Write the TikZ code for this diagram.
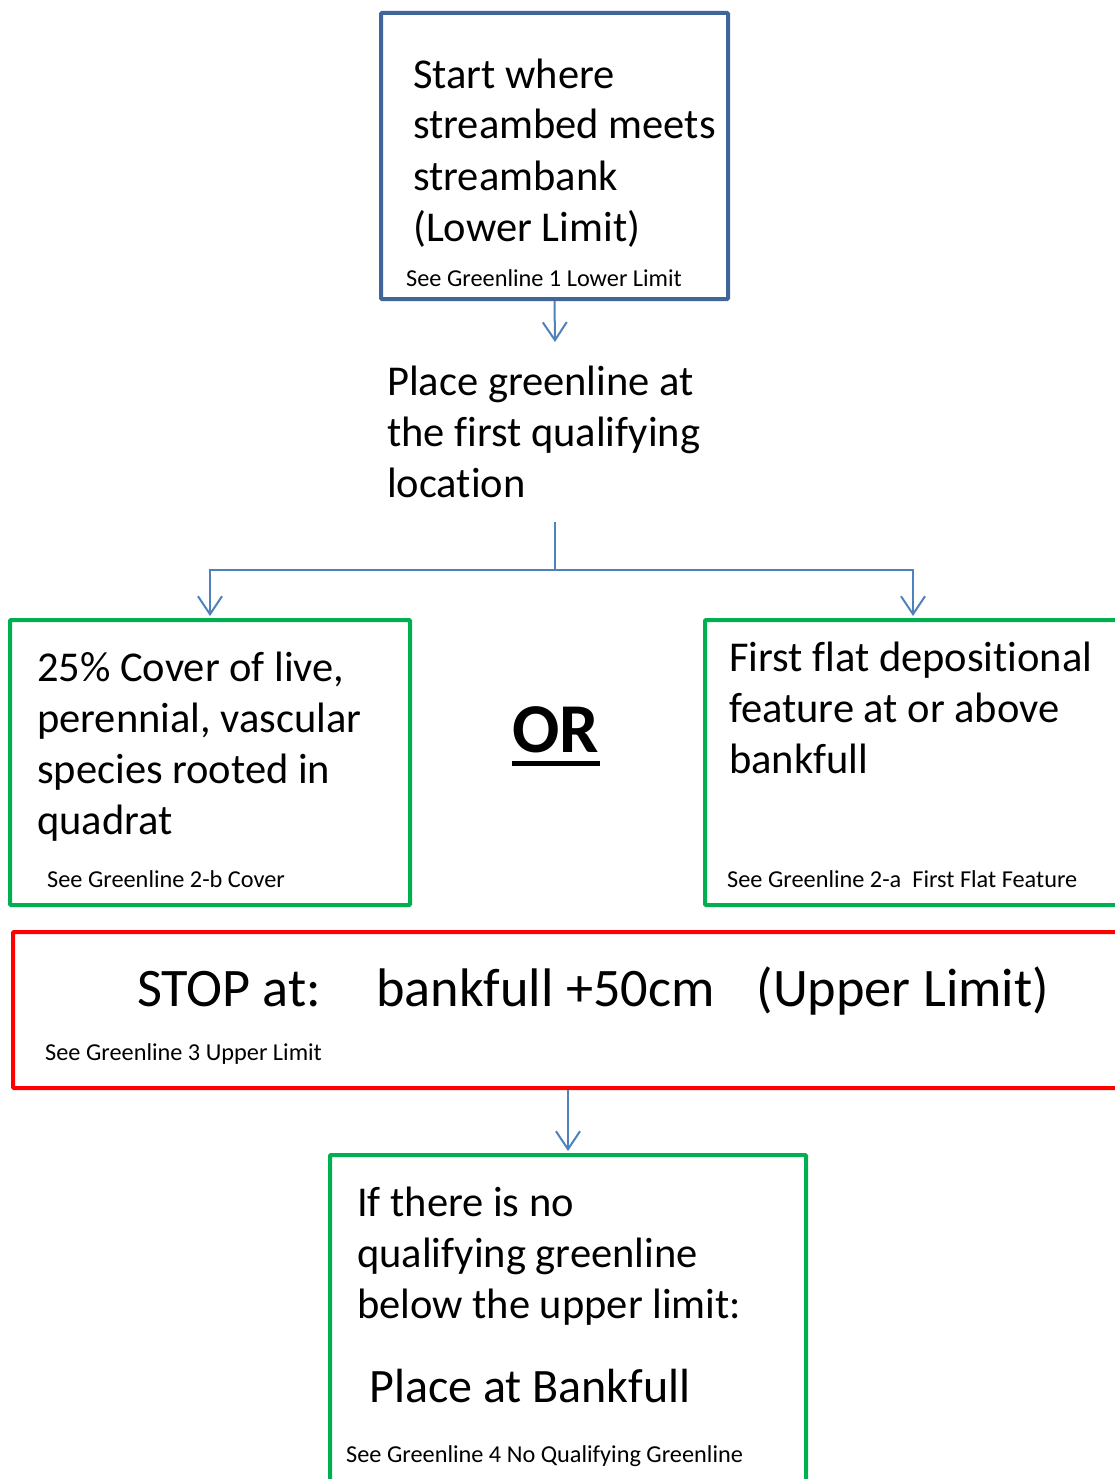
\documentclass[tikz,border=0pt]{standalone}
\usepackage{fontspec}
\setmainfont{Carlito}[Ligatures=NoCommon]
\usetikzlibrary{arrows.meta}

\definecolor{boxblue}{HTML}{3F659A}
\definecolor{flowblue}{HTML}{4F81BD}
\definecolor{boxgreen}{HTML}{00B050}
\definecolor{boxred}{HTML}{FF0000}

\tikzset{
	framebox/.style={draw, line width=4pt, inner sep=0pt, rounded corners=1pt},
	bluebox/.style={framebox, draw=boxblue},
	greenbox/.style={framebox, draw=boxgreen},
	redbox/.style={framebox, draw=boxred},
	flowline/.style={draw=flowblue, line width=2pt},
	flow/.style={flowline, -{Straight Barb[length=18pt, width=24pt, line width=2pt]}},
	% multi-line texts sit on the baseline of their last line
	maintext/.style={anchor=base west, align=left, inner sep=0pt, font=\fontsize{42.5}{51}\selectfont},
	smalltext/.style={anchor=base west, inner sep=0pt, font=\fontsize{24.3}{28}\selectfont},
}

\begin{document}
\begin{tikzpicture}[x=1pt, y=-1pt]
	\useasboundingbox (0,0) rectangle (1115,1479);
	\clip (0,0) rectangle (1115,1479);

	% boxes
	\node[bluebox, minimum width=347pt, minimum height=286pt] (start) at (554.5,156) {};
	\node[greenbox, minimum width=400pt, minimum height=285pt] (cover) at (210,762.5) {};
	\node[greenbox, minimum width=416pt, minimum height=285pt] (flat) at (913,762.5) {};
	\node[redbox, minimum width=1110pt, minimum height=156pt] (stop) at (568,1010) {};
	\node[greenbox, minimum width=476pt, minimum height=345pt] (bankfull) at (568,1327.5) {};

	% texts
	\node[maintext] (starttext) at (413,241) {Start where\\streambed meets\\streambank\\(Lower Limit)};
	\node[smalltext] (startref) at (406,286) {See Greenline 1 Lower Limit};
	\node[maintext] (place) at (387,497) {Place greenline at\\the first qualifying\\location};
	\node[maintext] (covertext) at (37,834) {25\% Cover of live,\\perennial, vascular\\species rooted in\\quadrat};
	\node[smalltext] (coverref) at (47,887) {See Greenline 2-b Cover};
	\node[maintext] (flattext) at (729,773) {First flat depositional\\feature at or above\\bankfull};
	\node[smalltext] (flatref) at (727,887) {See Greenline 2-a\ \ First Flat Feature};
	\node[anchor=base, inner sep=0pt, font=\fontsize{70}{80}\selectfont\bfseries] (or) at (556,752) {OR};
	\draw[line width=5pt] ([yshift=-11pt]or.base west) -- ([yshift=-11pt]or.base east);
	\node[anchor=base west, inner sep=0pt, font=\fontsize{54.3}{64}\selectfont] (stoptext) at (137,1006)
		{STOP at:\hspace{55pt}bankfull +50cm\hspace{42pt}(Upper Limit)};
	\node[smalltext] (stopref) at (45,1060) {See Greenline 3 Upper Limit};
	\node[maintext] (nonetext) at (357,1318) {If there is no\\qualifying greenline\\below the upper limit:};
	\node[anchor=base west, inner sep=0pt, font=\fontsize{48}{56}\selectfont] (bankfulltext) at (369,1402) {Place at Bankfull};
	\node[smalltext] (noneref) at (346,1462) {See Greenline 4 No Qualifying Greenline};

	% connectors
	\coordinate (placetop) at (555,342);
	\coordinate (fork) at (555,522);
	\draw[flow] (start.south) -- (placetop);
	\draw[flow] (fork) -- ++(0,48) -| ([yshift=2pt]cover.north);
	\draw[flow] (fork) -- ++(0,48) -| ([yshift=2pt]flat.north);
	\draw[flow] (stop.south) -- ([yshift=2pt]bankfull.north);
\end{tikzpicture}
\end{document}
